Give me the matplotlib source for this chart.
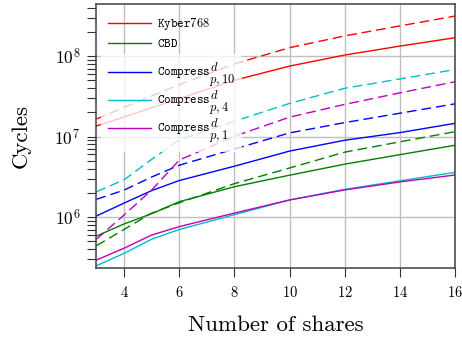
"""Cycle counts vs number of shares for masked Kyber768 components (log scale).

Solid and dashed line per component, same colour.
"""

import matplotlib

matplotlib.use("Agg")
import matplotlib.pyplot as plt
from matplotlib.ticker import LogLocator, NullFormatter, FixedLocator

plt.rcParams["font.family"] = "serif"
plt.rcParams["font.serif"] = ["cmr10"]
plt.rcParams["mathtext.fontset"] = "cm"
plt.rcParams["axes.formatter.use_mathtext"] = True

shares = [3, 4, 5, 6, 8, 10, 12, 14, 16]

# scripts stacked at full size, d left-aligned over p,k
labels = [
    r"$\mathtt{Kyber768}$",
    r"$\mathtt{CBD}$",
    r"$\mathtt{Compress}\genfrac{}{}{0}{0}{d\hspace{1.5}}{p,10}\hspace{2.2}$",
    r"$\mathtt{Compress}\genfrac{}{}{0}{0}{d\hspace{0.9}}{p,4}$",
    r"$\mathtt{Compress}\genfrac{}{}{0}{0}{d\hspace{0.9}}{p,1}$",
]
colors = ["#ff0000", "#008000", "#0000ff", "#00bfbf", "#bf00bf"]

# solid lines
kyber_solid = [1.35e7, 1.75e7, 2.28e7, 2.95e7, 5.0e7, 7.5e7, 1.03e8, 1.33e8, 1.69e8]
cbd_solid = [5.8e5, 8.2e5, 1.1e6, 1.55e6, 2.38e6, 3.31e6, 4.54e6, 5.96e6, 7.8e6]
comp10_solid = [1.03e6, 1.49e6, 2.13e6, 2.84e6, 4.28e6, 6.6e6, 9.0e6, 1.12e7, 1.46e7]
comp4_solid = [2.48e5, 3.54e5, 5.3e5, 7.0e5, 1.07e6, 1.63e6, 2.21e6, 2.82e6, 3.59e6]
comp1_solid = [2.92e5, 4.1e5, 5.97e5, 7.6e5, 1.12e6, 1.63e6, 2.17e6, 2.73e6, 3.33e6]

# dashed lines
kyber_dashed = [1.65e7, 2.3e7, 3.2e7, 4.4e7, 8.0e7, 1.27e8, 1.78e8, 2.37e8, 3.14e8]
cbd_dashed = [4.4e5, 7.0e5, 1.12e6, 1.5e6, 2.6e6, 4.07e6, 6.4e6, 8.6e6, 1.15e7]
comp10_dashed = [1.66e6, 2.16e6, 3.14e6, 4.4e6, 7.0e6, 1.11e7, 1.49e7, 1.95e7, 2.55e7]
comp4_dashed = [2.06e6, 2.9e6, 5.2e6, 9.1e6, 1.55e7, 2.58e7, 3.98e7, 5.2e7, 6.8e7]
comp1_dashed = [5.3e5, 1.06e6, 2.16e6, 5.1e6, 1.01e7, 1.74e7, 2.51e7, 3.49e7, 4.8e7]

solids = [kyber_solid, cbd_solid, comp10_solid, comp4_solid, comp1_solid]
dasheds = [kyber_dashed, cbd_dashed, comp10_dashed, comp4_dashed, comp1_dashed]

fig = plt.figure(figsize=(4.62, 3.40), dpi=100)
ax = fig.add_axes([0.2087, 0.2132, 0.7766, 0.7736])

handles = []
for ys, c in zip(solids, colors):
    (h,) = ax.plot(shares, ys, color=c, lw=1.0)
    handles.append(h)
for ys, c in zip(dasheds, colors):
    ax.plot(shares, ys, color=c, lw=1.0, linestyle=(0, (7, 3.6)))

ax.set_yscale("log")
ax.set_xlim(3, 16)
ax.set_ylim(2.36e5, 4.37e8)
ax.xaxis.set_major_locator(FixedLocator([4, 6, 8, 10, 12, 14, 16]))
ax.yaxis.set_major_locator(LogLocator(base=10))
ax.yaxis.set_minor_locator(LogLocator(base=10, subs=range(2, 10)))
ax.yaxis.set_minor_formatter(NullFormatter())

ax.grid(True, which="major", color="#bfbfbf", lw=1.0)
ax.set_axisbelow(True)
for sp in ax.spines.values():
    sp.set_color("#404040")
    sp.set_linewidth(1.1)
ax.tick_params(which="both", direction="out", length=6.5, width=0.8, color="#303030",
               top=False, right=False)
ax.tick_params(axis="x", pad=6, labelsize=10.5)
ax.tick_params(axis="y", pad=5, labelsize=12.5)

ax.set_xlabel("Number of shares", fontsize=16.5, labelpad=11)
ax.set_ylabel("Cycles", fontsize=16.5, labelpad=17)

# legend split in two so the tall Compress rows keep even spacing;
# nothing is drawn behind the top part, so it needs no background
leg_kw = dict(fontsize=9, fancybox=False, handlelength=3.4, handletextpad=0.5,
              borderaxespad=0.05)
leg1 = ax.legend(handles[:2], labels[:2], loc="upper left", frameon=False,
                 labelspacing=0.46, borderpad=0.9, **leg_kw)
ax.add_artist(leg1)
ax.legend(handles[2:], labels[2:], loc="upper left", bbox_to_anchor=(0.012, 0.815),
          frameon=True, framealpha=0.78, facecolor="white", edgecolor="none",
          labelspacing=0.0, borderpad=0.55, **leg_kw)

fig.savefig("out.png", dpi=100)
